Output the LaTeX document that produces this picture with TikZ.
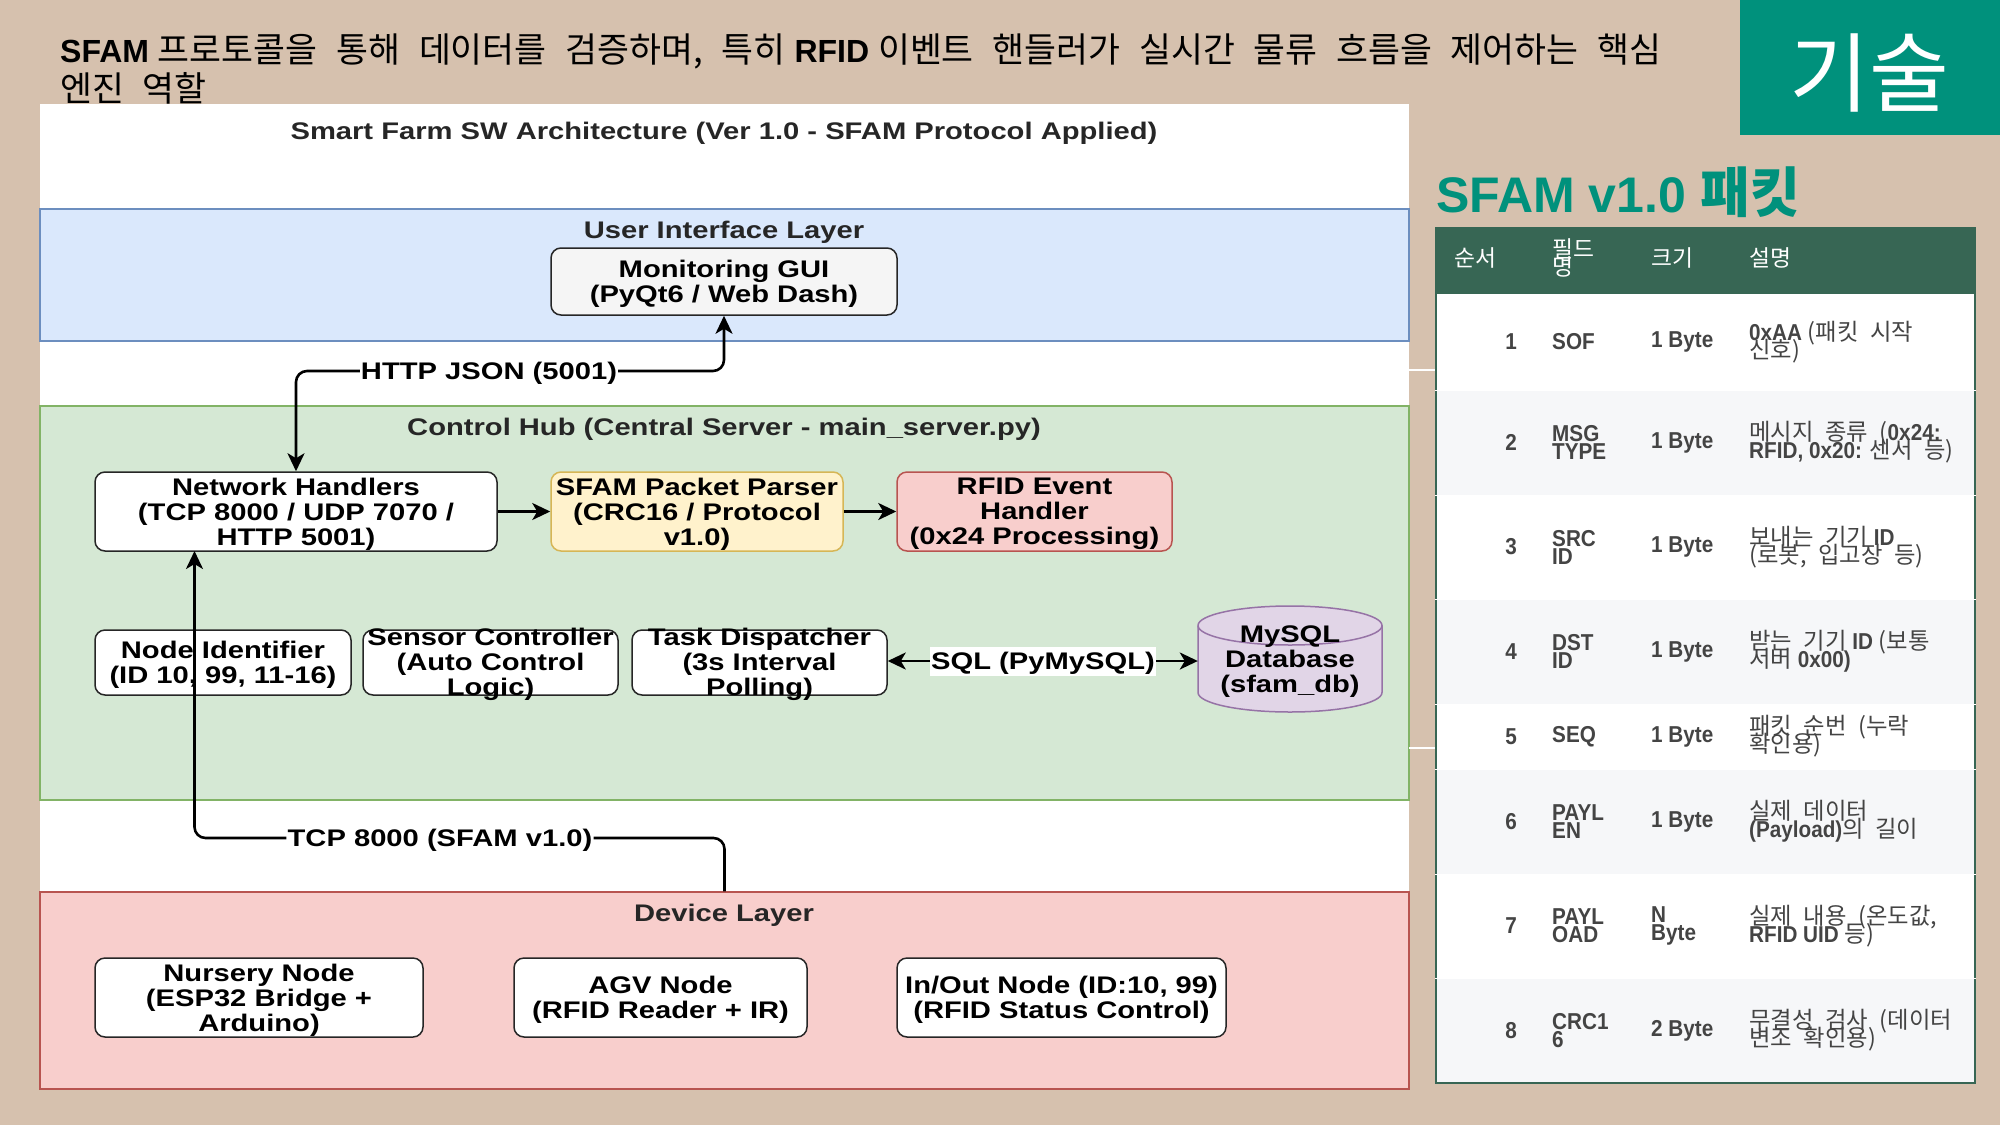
\documentclass[tikz,border=0pt]{standalone}
\usepackage{fontspec}
\usetikzlibrary{arrows.meta}

\setmainfont{Liberation Sans}
\newfontfamily\diagfont[FakeStretch=1.215]{Liberation Sans}
\newfontfamily\cellfont[FakeStretch=.9]{Liberation Sans}
\newfontfamily\krfont[Scale=1.085]{Noto Sans CJK KR}

\newcommand{\kor}[1]{{\krfont\mdseries\spaceskip=.54em\relax #1}}
\newcommand{\korc}[1]{{\krfont\mdseries\fontsize{21.5}{18}\selectfont\spaceskip=.5em\relax #1}}
\newcommand{\tightlines}{\lineskiplimit=-30pt\relax}
\newcommand{\headingtext}{\bfseries\fontsize{32}{39}\selectfont\tightlines}
\newcommand{\diagtext}{\diagfont\bfseries\fontsize{24}{25}\selectfont}
\newcommand{\celltext}{\cellfont\bfseries\fontsize{23}{18}\selectfont\tightlines}
\newcommand{\headtext}{\krfont\fontsize{21}{18}\selectfont\tightlines}

\definecolor{pagebg}{HTML}{D6C1AE}
\definecolor{teal}{HTML}{00917C}
\definecolor{tablegreen}{HTML}{376654}
\definecolor{celltxt}{HTML}{444444}
\definecolor{rowa}{HTML}{FFFFFF}
\definecolor{rowb}{HTML}{F6F7F9}

\tikzset{
  >={Stealth[length=18pt,width=17pt,inset=5pt]},
  layerbox/.style={draw,line width=1.2pt,inner sep=0pt,minimum width=1369pt},
  layertitle/.style={inner sep=0pt,text=black!85,font=\diagtext},
  compbox/.style={draw=black!85,fill=white,line width=1.5pt,rounded corners=10pt,inner xsep=0pt,inner ysep=-14pt,align=center,font=\diagtext,execute at begin node={\rule{0pt}{#1}}},
  compbox/.default=72pt,
  link/.style={line width=2.6pt,rounded corners=11pt},
  linklabel/.style={fill=white,inner sep=1pt,font=\diagtext,execute at begin node={\rule{0pt}{22pt}}},
  cell/.style={inner sep=0pt,anchor=west,align=left,text=celltxt,font=\celltext},
  headcell/.style={inner sep=0pt,anchor=west,align=left,text=white,font=\headtext},
}

\begin{document}
\begin{tikzpicture}[x=1pt,y=-1pt]
\useasboundingbox (0,0) rectangle (2000,1125);
\fill[pagebg] (0,0) rectangle (2000,1125);

% heading
\node[anchor=west,inner sep=0pt,align=left,font=\headingtext] (heading) at (60,69)
  {SFAM \kor{프로토콜을 통해 데이터를 검증하며, 특히} RFID \kor{이벤트 핸들러가 실시간 물류 흐름을 제어하는 핵심}\\\kor{엔진 역할}};

\fill[teal] (1740,0) rectangle (2000,135);
\node[text=white,inner sep=0pt,font=\krfont\fontsize{80}{80}\selectfont] (badge) at (1869,73) {기술};

% diagram panel
\node[fill=white,inner sep=0pt,minimum width=1369pt,minimum height=985pt] (panel) at (724.5,596.5) {};
\node[inner sep=0pt,text=black!85,font=\diagtext] (paneltitle) at (724,133) {Smart Farm SW Architecture (Ver 1.0 - SFAM Protocol Applied)};

\node[layerbox,fill={rgb,255:red,218;green,232;blue,252},draw={rgb,255:red,108;green,142;blue,191},minimum height=132pt] (uilayer) at (724.5,275) {};
\node[layerbox,fill={rgb,255:red,213;green,232;blue,212},draw={rgb,255:red,130;green,179;blue,102},minimum height=394pt] (hublayer) at (724.5,603) {};
\node[layerbox,fill={rgb,255:red,248;green,206;blue,204},draw={rgb,255:red,184;green,84;blue,80},minimum height=197pt] (devlayer) at (724.5,990.5) {};

\node[layertitle] (uititle) at (724,232.5) {User Interface Layer};
\node[layertitle] (hubtitle) at (724,429.5) {Control Hub (Central Server - main\_server.py)};
\node[layertitle] (devtitle) at (724,915.5) {Device Layer};

\node[compbox=47pt,fill={rgb,255:red,245;green,245;blue,245},minimum width=346pt,minimum height=67pt] (gui) at (724,281.5) {Monitoring GUI\\(PyQt6 / Web Dash)};

\node[compbox,minimum width=402pt,minimum height=79pt] (nethandlers) at (296,511.5) {Network Handlers\\(TCP 8000 / UDP 7070 /\\HTTP 5001)};
\node[compbox,fill={rgb,255:red,255;green,242;blue,204},draw={rgb,255:red,214;green,182;blue,86},minimum width=292pt,minimum height=79pt] (parser) at (697,511.5) {SFAM Packet Parser\\(CRC16 / Protocol\\v1.0)};
\node[compbox,fill={rgb,255:red,248;green,206;blue,204},draw={rgb,255:red,184;green,84;blue,80},minimum width=275pt,minimum height=79pt] (rfid) at (1034.5,511.5) {RFID Event\\Handler\\(0x24 Processing)};

\node[compbox=47pt,minimum width=256pt,minimum height=65pt] (nodeid) at (223,662.5) {Node Identifier\\(ID 10, 99, 11-16)};
\node[compbox,minimum width=255pt,minimum height=65pt] (sensor) at (490.5,662.5) {Sensor Controller\\(Auto Control\\Logic)};
\node[compbox,minimum width=255pt,minimum height=65pt] (task) at (759.5,662.5) {Task Dispatcher\\(3s Interval\\Polling)};

% database drum
\draw[draw={rgb,255:red,150;green,115;blue,166},fill={rgb,255:red,225;green,213;blue,231},line width=1.5pt]
  (1198,625.5) arc[start angle=180,end angle=360,x radius=92,y radius=19.5] -- (1382,692.5)
  arc[start angle=0,end angle=180,x radius=92,y radius=19.5] -- cycle;
\draw[draw={rgb,255:red,150;green,115;blue,166},line width=1.5pt]
  (1198,625.5) arc[start angle=180,end angle=0,x radius=92,y radius=19.5];
\node[inner xsep=0pt,inner ysep=-14pt,align=center,font=\diagtext,minimum width=184pt,minimum height=106pt,execute at begin node={\rule{0pt}{72pt}}] (mysql) at (1290,659) {MySQL\\Database\\(sfam\_db)};

\node[compbox,minimum width=328pt,minimum height=79pt] (nursery) at (259,997.5) {Nursery Node\\(ESP32 Bridge +\\Arduino)};
\node[compbox=47pt,minimum width=293pt,minimum height=79pt] (agv) at (660.5,997.5) {AGV Node\\(RFID Reader + IR)};
\node[compbox=47pt,minimum width=329pt,minimum height=79pt] (inout) at (1061.5,997.5) {In/Out Node (ID:10, 99)\\(RFID Status Control)};

% links
\coordinate (netport) at (194.5,551);
\node[linklabel] (httplabel) at (489,371) {HTTP JSON (5001)};
\node[linklabel] (tcplabel) at (440,838) {TCP 8000 (SFAM v1.0)};
\node[linklabel] (sqllabel) at (1043,661) {SQL (PyMySQL)};

\draw[link,->] (httplabel.west) -| (nethandlers.north);
\draw[link,->] (httplabel.east) -| (gui.south);
\draw[link,->] (tcplabel.west) -| (netport);
\draw[link] (tcplabel.east) -| (devlayer.north);
\draw[link,->] (nethandlers) -- (parser);
\draw[link,->] (parser) -- (rfid);
\draw[link,->] (sqllabel.west) -- (task.east |- sqllabel.west);
\draw[link,->] (sqllabel.east) -- (mysql.west |- sqllabel.east);

% packet table
\node[anchor=west,inner sep=0pt,text=teal,font=\bfseries\fontsize{50}{50}\selectfont] (tabletitle) at (1436,192) {SFAM v1.0 {\krfont 패킷}};

\draw[white,line width=1.5pt] (1409,370) -- (1436,370);
\draw[white,line width=1.5pt] (1409,748) -- (1436,748);

\fill[tablegreen] (1436,228) rectangle (1975,294);
\node[headcell] (headno) at (1454,258) {순서};
\node[headcell] (headfield) at (1552,258) {필드\\명};
\node[headcell] (headsize) at (1651,258) {크기};
\node[headcell] (headdesc) at (1749,258) {설명};

\foreach \rowno/\ytop/\ybot/\rowfill/\fld/\sz/\desc in {
  1/294/390/rowa/SOF/1 Byte/0xAA \korc{(패킷 시작}\\\korc{신호)},
  2/390/495/rowb/MSG\\TYPE/1 Byte/\korc{메시지 종류 (}0x24:\\RFID{,} 0x20: \korc{센서 등)},
  3/495/599/rowa/SRC\\ID/1 Byte/\korc{보내는 기기} ID\\\korc{(로봇, 입고장 등)},
  4/599/704/rowb/DST\\ID/1 Byte/\korc{받는 기기} ID \korc{(보통}\\\korc{서버} 0x00),
  5/704/769/rowa/SEQ/1 Byte/\korc{패킷 순번 (누락}\\\korc{확인용)},
  6/769/874/rowb/PAYL\\EN/1 Byte/\korc{실제 데이터}\\(Payload)\korc{의 길이},
  7/874/978/rowa/PAYL\\OAD/N\\Byte/\korc{실제 내용 (온도값,}\\RFID UID \korc{등)},
  8/978/1083/rowb/CRC1\\6/2 Byte/\korc{무결성 검사 (데이터}\\\korc{변조 확인용)}
}{
  \fill[\rowfill] (1436,\ytop) rectangle (1975,\ybot);
  \node[cell,anchor=east] (no\rowno) at (1517,{0.5*(\ytop+\ybot)}) {\rowno};
  \node[cell] (field\rowno) at (1552,{0.5*(\ytop+\ybot)}) {\fld};
  \node[cell] (size\rowno) at (1651,{0.5*(\ytop+\ybot)}) {\sz};
  \node[cell] (desc\rowno) at (1749,{0.5*(\ytop+\ybot)}) {\desc};
}

\draw[tablegreen,line width=2pt] (1436,228) rectangle (1975,1083);
\foreach \ysep in {390,495,599,704,769,874,978}{
  \draw[white,line width=1pt] (1435,\ysep) -- (1976,\ysep);
}

\end{tikzpicture}
\end{document}
